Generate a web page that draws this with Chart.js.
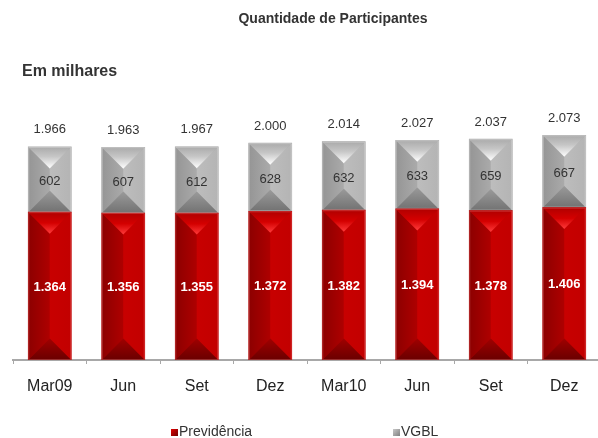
<!DOCTYPE html>
<html>
<head>
<meta charset="utf-8">
<script src="https://cdn.jsdelivr.net/npm/chart.js@4.4.1/dist/chart.umd.min.js"></script>
<style>
  html, body { margin: 0; padding: 0; background: #fff; overflow: hidden; }
  #wrap { width: 602px; height: 438px; }
</style>
</head>
<body>
<div id="wrap"><canvas id="c" width="602" height="438"></canvas></div>
<script>
// Participants per quarter, in thousands
const categories = ['Mar09', 'Jun', 'Set', 'Dez', 'Mar10', 'Jun', 'Set', 'Dez'];
const previdencia = [1364, 1356, 1355, 1372, 1382, 1394, 1378, 1406];
const vgbl = [602, 607, 612, 628, 632, 633, 659, 667];
const seriesNames = ['Previdência', 'VGBL'];
const chartTitle = 'Quantidade de Participantes';
const unitNote = 'Em milhares';
const yMax = 2500;

const FONT = '"Liberation Sans", Arial, Helvetica, sans-serif';

// Brazilian thousands separator
function fmt(v) {
  if (v >= 1000) return Math.floor(v / 1000) + '.' + String(v % 1000).padStart(3, '0');
  return String(v);
}

// Bevelled face colours per series
const palettes = [
  {
    base: '#b80000',
    left: [[0, '#8c0000'], [1, '#ae0000']],
    right: [[0, '#c80000'], [1, '#c20000']],
    top: [[0, '#b00000'], [0.5, '#d40000'], [1, '#ff3b3b']],
    bottom: [[0, '#a00000'], [1, '#6a0000']],
    edge: 'rgba(255,160,160,0.3)'
  },
  {
    base: '#aaaaaa',
    left: [[0, '#959595'], [1, '#aaaaaa']],
    right: [[0, '#bdbdbd'], [1, '#b4b4b4']],
    top: [[0, '#aaaaaa'], [0.45, '#c6c6c6'], [1, '#ffffff']],
    bottom: [[0, '#9a9a9a'], [1, '#727272']],
    edge: 'rgba(225,225,225,0.45)'
  }
];

function grad(ctx, x0, y0, x1, y1, stops) {
  const g = ctx.createLinearGradient(x0, y0, x1, y1);
  stops.forEach(s => g.addColorStop(s[0], s[1]));
  return g;
}
function face(ctx, pts, fill) {
  ctx.beginPath();
  ctx.moveTo(pts[0][0], pts[0][1]);
  for (let i = 1; i < pts.length; i++) ctx.lineTo(pts[i][0], pts[i][1]);
  ctx.closePath();
  ctx.fillStyle = fill;
  ctx.fill();
}

// Paints a pyramid-style bevel over each bar segment
const bevelPlugin = {
  id: 'bevel',
  afterDatasetDraw(chart, args) {
    const pal = palettes[args.index];
    const ctx = chart.ctx;
    args.meta.data.forEach(bar => {
      const p = bar.getProps(['x', 'y', 'base', 'width'], true);
      const l = p.x - p.width / 2, r = p.x + p.width / 2;
      const t = Math.min(p.y, p.base), b = Math.max(p.y, p.base);
      const d = Math.min(p.width / 2, (b - t) / 2);
      ctx.save();
      face(ctx, [[l, t], [p.x + 0.5, t + d], [p.x + 0.5, b - d], [l, b]], grad(ctx, l, 0, p.x, 0, pal.left));
      face(ctx, [[r, t], [p.x, t + d], [p.x, b - d], [r, b]], grad(ctx, p.x, 0, r, 0, pal.right));
      face(ctx, [[l, t], [r, t], [p.x, t + d]], grad(ctx, 0, t, 0, t + d, pal.top));
      face(ctx, [[l, b], [r, b], [p.x, b - d]], grad(ctx, 0, b - d, 0, b, pal.bottom));
      ctx.strokeStyle = pal.edge;
      ctx.lineWidth = 1;
      ctx.strokeRect(l + 0.5, t + 0.5, p.width - 1, b - t - 1);
      ctx.restore();
    });
  }
};

// Segment values and totals
const labelPlugin = {
  id: 'valueLabels',
  afterDatasetsDraw(chart) {
    const ctx = chart.ctx;
    const m0 = chart.getDatasetMeta(0), m1 = chart.getDatasetMeta(1);
    ctx.save();
    ctx.textAlign = 'center';
    ctx.textBaseline = 'middle';
    m0.data.forEach((bar, i) => {
      const p = bar.getProps(['x', 'y', 'base'], true);
      ctx.font = 'bold 13px ' + FONT;
      ctx.fillStyle = '#ffffff';
      ctx.fillText(fmt(previdencia[i]), p.x, (p.y + p.base) / 2 + 1);
    });
    m1.data.forEach((bar, i) => {
      const p = bar.getProps(['x', 'y', 'base'], true);
      ctx.font = '13px ' + FONT;
      ctx.fillStyle = '#333333';
      ctx.fillText(fmt(vgbl[i]), p.x, (p.y + p.base) / 2 + 2);
      ctx.fillText(fmt(previdencia[i] + vgbl[i]), p.x, p.y - 17);
    });
    ctx.restore();
  }
};

// Title, unit note and legend
const decorPlugin = {
  id: 'decor',
  afterDraw(chart) {
    const ctx = chart.ctx;
    ctx.save();
    ctx.fillStyle = '#333333';
    ctx.textBaseline = 'middle';
    ctx.font = 'bold 14px ' + FONT;
    ctx.textAlign = 'center';
    ctx.fillText(chartTitle, 333, 19);
    ctx.font = 'bold 16px ' + FONT;
    ctx.textAlign = 'left';
    ctx.fillText(unitNote, 22, 72);

    const items = [
      { x: 171, fill: grad(ctx, 171, 429, 178, 436, [[0, '#e00000'], [1, '#700000']]) },
      { x: 393, fill: grad(ctx, 393, 429, 400, 436, [[0, '#c8c8c8'], [1, '#808080']]) }
    ];
    ctx.font = '14px ' + FONT;
    items.forEach((it, i) => {
      ctx.fillStyle = it.fill;
      ctx.fillRect(it.x, 429, 7, 7);
      ctx.fillStyle = '#333333';
      ctx.fillText(seriesNames[i], it.x + 8, 432);
    });
    ctx.restore();
  }
};

new Chart(document.getElementById('c'), {
  type: 'bar',
  data: {
    labels: categories,
    datasets: [
      { label: seriesNames[0], data: previdencia, backgroundColor: palettes[0].base, borderWidth: 0 },
      { label: seriesNames[1], data: vgbl, backgroundColor: palettes[1].base, borderWidth: 0 }
    ]
  },
  options: {
    responsive: false,
    devicePixelRatio: 1,
    animation: false,
    barThickness: 43,
    layout: { padding: { top: 89, left: 13, right: 1, bottom: 0 } },
    plugins: {
      legend: { display: false },
      tooltip: { enabled: false }
    },
    scales: {
      x: {
        stacked: true,
        offset: true,
        grid: { display: true, drawOnChartArea: false, drawTicks: true, tickLength: 4, color: '#a8a8a8', lineWidth: 1, offset: true },
        border: { display: true, color: '#a8a8a8', width: 2 },
        ticks: { font: { family: FONT, size: 16 }, color: '#222222', padding: 13, maxRotation: 0, autoSkip: false },
        afterFit(scale) { scale.height = 78; }
      },
      y: {
        display: false,
        stacked: true,
        min: 0,
        max: yMax
      }
    }
  },
  plugins: [bevelPlugin, labelPlugin, decorPlugin]
});
</script>
</body>
</html>
